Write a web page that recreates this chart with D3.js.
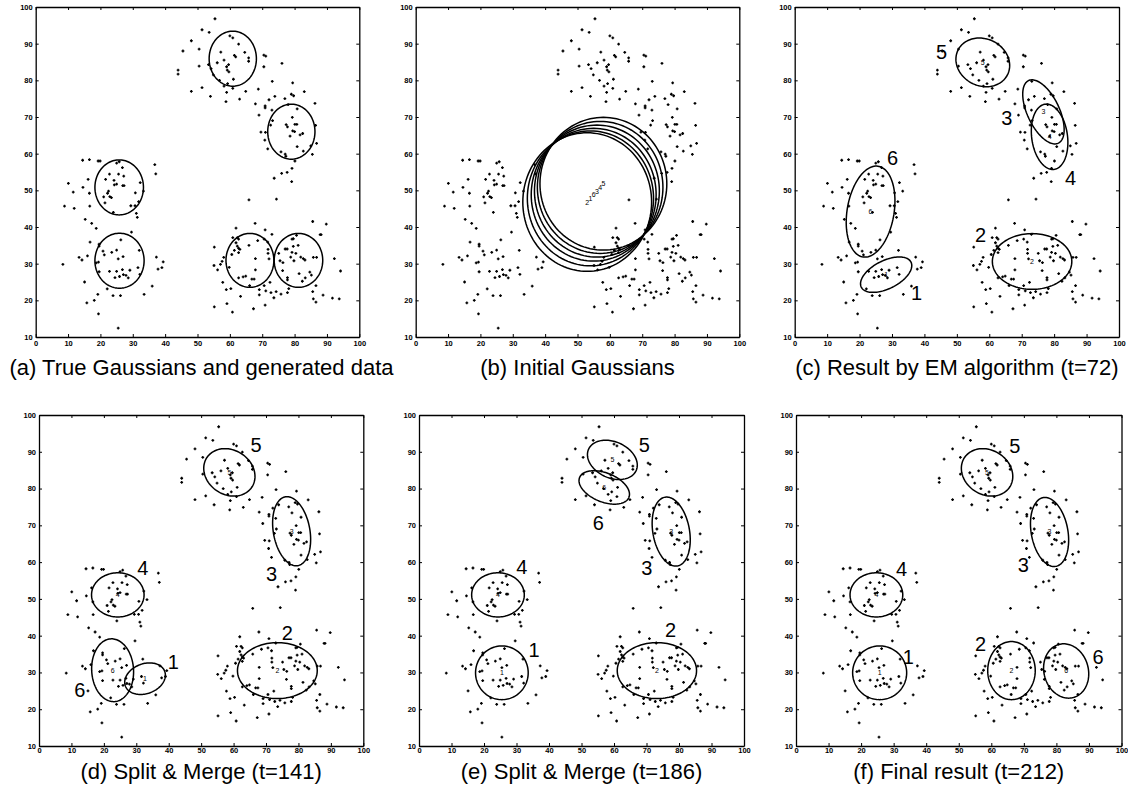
<!DOCTYPE html>
<html>
<head>
<meta charset="utf-8">
<script src="https://cdnjs.cloudflare.com/ajax/libs/d3/7.8.5/d3.min.js"></script>
<style>
body { margin:0; background:#fff; }
svg text { font-family:"Liberation Sans", Arial, sans-serif; fill:#000; }
</style>
</head>
<body>
<div id="chart-area"></div>
<script>
//data (same generated points in every panel)
var pointsNorth = [[55.4,96.8],[51.4,93.8],[53.6,93.1],[48.1,90.8],[45.5,88.0],[50.5,88.5],[44.0,82.8],[44.0,81.7],[50.5,83.9],[53.4,84.3],[54.2,83.2],[48.1,77.0],[51.4,78.0],[54.0,75.6],[58.8,74.2],[60.0,92.1],[60.9,91.6],[62.7,89.9],[57.2,87.7],[58.2,85.5],[56.1,84.8],[59.6,84.3],[61.4,86.8],[61.8,86.4],[64.6,87.6],[65.8,86.1],[65.8,85.2],[59.0,83.7],[59.2,82.8],[59.7,82.3],[54.9,81.5],[56.8,80.0],[61.1,80.3],[59.3,79.1],[58.2,78.4],[59.0,76.7],[60.9,77.8],[64.9,77.0],[63.0,74.9],[70.5,86.9],[71.1,86.6],[70.5,83.7],[76.1,84.6],[73.1,79.7],[79.4,79.3],[68.8,77.6],[83.0,76.9]];
var pointsEast = [[67.9,73.6],[70.9,73.0],[70.9,72.5],[72.1,74.7],[73.9,75.6],[77.0,75.0],[79.0,76.2],[79.7,75.8],[78.0,73.4],[73.0,71.9],[80.8,72.2],[86.3,73.7],[69.0,70.5],[73.2,69.0],[72.6,67.8],[77.4,67.9],[77.8,67.3],[79.3,69.9],[80.1,68.0],[80.7,68.0],[86.5,67.7],[69.6,65.9],[71.0,65.8],[79.4,66.2],[80.0,66.0],[78.6,64.8],[81.7,65.1],[82.5,65.5],[70.8,63.7],[71.7,61.3],[80.8,61.9],[82.7,60.7],[85.0,62.1],[86.8,62.8],[85.5,59.8],[75.8,60.5],[77.1,59.9],[77.3,59.3],[80.1,58.0],[79.2,56.0],[73.7,53.3],[76.0,54.6],[77.7,54.9],[79.1,52.4],[74.4,47.6],[65.9,47.4]];
var pointsWest = [[14.5,58.2],[16.6,58.4],[19.3,58.0],[19.9,58.0],[25.0,57.4],[25.8,57.8],[26.8,56.2],[36.8,57.0],[37.1,54.5],[22.8,54.4],[25.6,54.4],[27.2,53.9],[16.2,53.0],[21.6,53.0],[24.2,52.7],[10.1,51.9],[14.6,50.8],[26.9,51.3],[27.3,51.3],[24.3,51.5],[25.0,51.7],[32.3,52.1],[11.6,49.5],[16.6,49.2],[22.5,49.8],[22.2,49.2],[30.8,49.3],[33.3,49.8],[21.0,48.2],[22.9,48.3],[23.4,48.0],[8.9,45.7],[11.9,45.1],[16.7,45.7],[21.4,46.6],[29.4,45.8],[30.7,45.8],[31.8,46.9],[31.1,43.7],[31.4,42.6],[24.0,44.0],[15.3,42.1],[17.3,41.0],[18.7,39.6]];
var pointsSouthWest = [[29.6,38.6],[26.3,36.5],[16.8,35.9],[19.6,35.3],[19.6,34.8],[32.0,33.6],[20.8,33.4],[23.5,33.1],[25.0,33.7],[21.2,32.4],[16.0,32.1],[13.4,31.7],[14.3,31.0],[27.0,31.9],[25.5,31.3],[37.3,31.8],[8.4,29.8],[18.7,30.2],[19.4,30.4],[39.4,30.5],[39.0,28.9],[31.6,28.9],[19.6,27.8],[22.8,27.9],[25.0,27.9],[26.8,28.4],[29.1,28.2],[37.8,28.5],[27.1,27.0],[27.9,26.8],[28.6,26.1],[24.5,26.2],[25.9,26.5],[32.2,27.1],[15.1,25.0],[36.0,23.9],[22.1,23.1],[19.2,21.6],[23.9,21.3],[26.2,21.3],[33.5,21.6],[18.1,20.0],[15.8,19.3],[19.4,16.3],[25.5,12.4]];
var pointsSouthEast = [[55.2,34.5],[55.1,29.5],[56.2,28.3],[55.2,18.2],[57.1,29.8],[57.6,30.6],[57.8,24.9],[58.1,31.7],[58.9,22.9],[59.1,19.1],[59.8,29.0],[60.3,23.2],[60.8,16.8],[61.9,39.7],[60.9,37.1],[62.3,37.1],[62.7,36.7],[61.9,35.7],[62.3,34.8],[62.7,34.2],[63.1,33.9],[61.4,33.6],[60.6,32.5],[62.7,33.0],[65.9,35.0],[68.6,36.3],[67.8,41.0],[70.9,39.2],[70.6,36.7],[71.7,35.9],[73.0,38.0],[71.8,33.9],[72.1,31.3],[71.8,32.8],[67.9,31.4],[62.7,26.1],[64.1,26.4],[64.9,26.6],[67.9,28.3],[66.8,25.8],[67.5,25.8],[63.3,21.1],[66.1,24.0],[69.1,22.9],[69.1,21.5],[70.6,24.0],[71.1,22.6],[72.4,24.9],[72.7,22.1],[73.6,20.7],[74.3,22.4],[67.3,17.7],[70.9,18.7],
	[75.5,30.8],[76.4,30.3],[75.1,32.8],[77.1,34.0],[77.7,34.0],[76.3,28.1],[77.8,26.2],[77.8,25.6],[78.2,23.2],[77.8,22.1],[75.8,21.7],[78.8,31.8],[79.2,33.1],[79.6,34.7],[79.2,36.7],[79.6,36.8],[80.6,37.7],[81.1,35.0],[80.4,32.8],[79.8,30.8],[81.9,31.8],[82.7,31.4],[83.2,31.0],[81.4,27.3],[82.4,25.2],[83.3,26.1],[84.7,27.7],[85.2,26.9],[85.8,31.7],[86.8,31.7],[85.6,22.4],[86.6,24.0],[85.8,20.4],[86.6,19.5],[85.6,41.5],[89.8,40.8],[87.9,37.9],[88.2,37.9],[88.8,21.4],[91.7,20.6],[93.8,20.4],[92.3,31.4],[94.2,28.0]];

//tick labels
var xTicks = [0,10,20,30,40,50,60,70,80,90,100];
var yTicks = [10,20,30,40,50,60,70,80,90,100];

var captions = ["(a) True Gaussians and generated data", "(b) Initial Gaussians", "(c) Result by EM algorithm (t=72)",
	"(d) Split & Merge (t=141)", "(e) Split & Merge (t=186)", "(f) Final result (t=212)"];

//gaussians: centre, semi axes (data units), angle of first axis (deg)
var ellipsesA = [
	{id:"", cx:60.9, cy:85.9, a:7.3, b:7.5, angle:0},
	{id:"", cx:79.0, cy:66.0, a:7.3, b:7.5, angle:0},
	{id:"", cx:25.8, cy:50.8, a:7.5, b:7.5, angle:0},
	{id:"", cx:25.9, cy:30.8, a:7.6, b:7.5, angle:0},
	{id:"", cx:66.2, cy:30.9, a:7.4, b:7.35, angle:0},
	{id:"", cx:81.2, cy:30.9, a:7.5, b:7.35, angle:0}
];
var ellipsesB = [
	{id:"2", cx:53.0, cy:46.8, a:19.9, b:18.9, angle:0},
	{id:"1", cx:54.0, cy:47.8, a:19.5, b:18.4, angle:0},
	{id:"6", cx:55.0, cy:48.8, a:19.3, b:18.1, angle:0},
	{id:"3", cx:56.0, cy:49.8, a:19.3, b:18.0, angle:0},
	{id:"4", cx:57.0, cy:50.8, a:19.4, b:18.0, angle:0},
	{id:"5", cx:58.0, cy:51.8, a:19.6, b:18.1, angle:0}
];
var ellipsesC = [
	{id:"5", cx:58.0, cy:84.9, a:8.4, b:6.5, angle:-15},
	{id:"3", cx:76.7, cy:71.4, a:9.7, b:4.8, angle:-60},
	{id:"4", cx:78.6, cy:64.6, a:9.0, b:5.5, angle:-80},
	{id:"6", cx:23.4, cy:44.2, a:12.6, b:7.2, angle:78},
	{id:"1", cx:28.2, cy:27.0, a:8.4, b:3.9, angle:22.5},
	{id:"2", cx:73.2, cy:30.6, a:12.25, b:7.6, angle:0}
];
var ellipsesD = [
	{id:"5", cx:58.7, cy:84.4, a:8.1, b:6.2, angle:-20},
	{id:"3", cx:77.9, cy:68.4, a:9.55, b:5.6, angle:-77},
	{id:"4", cx:24.3, cy:51.1, a:8.1, b:6.0, angle:0},
	{id:"6", cx:22.7, cy:30.6, a:8.55, b:6.45, angle:95},
	{id:"1", cx:32.7, cy:28.3, a:6.4, b:4.1, angle:15},
	{id:"2", cx:73.5, cy:30.5, a:12.3, b:7.6, angle:0}
];
var ellipsesE = [
	{id:"5", cx:59.5, cy:87.8, a:7.9, b:5.0, angle:-18},
	{id:"6", cx:57.0, cy:80.3, a:8.06, b:4.0, angle:-18},
	{id:"3", cx:77.6, cy:68.3, a:9.55, b:5.6, angle:-77},
	{id:"4", cx:24.3, cy:51.1, a:8.1, b:6.0, angle:0},
	{id:"1", cx:25.5, cy:29.9, a:8.1, b:7.3, angle:0},
	{id:"2", cx:73.2, cy:30.5, a:12.2, b:7.6, angle:0}
];
var ellipsesF = [
	{id:"5", cx:58.7, cy:84.4, a:8.1, b:6.2, angle:-20},
	{id:"3", cx:77.9, cy:68.2, a:9.55, b:5.6, angle:-77},
	{id:"4", cx:24.7, cy:51.1, a:8.1, b:6.0, angle:0},
	{id:"1", cx:25.7, cy:29.9, a:8.3, b:7.3, angle:0},
	{id:"2", cx:66.2, cy:30.5, a:7.3, b:7.9, angle:0},
	{id:"6", cx:83.0, cy:30.4, a:7.6, b:6.7, angle:-60}
];

//big component numbers [text, x, y]
var labelsC = [["5",45.3,87.8],["3",65.4,69.6],["4",85.1,53.3],["6",30.2,58.7],["1",37.6,22.0],["2",57.3,37.8]];
var labelsD = [["5",66.9,91.8],["3",71.7,56.9],["4",32.0,58.3],["6",12.6,25.2],["1",41.4,32.8],["2",76.6,40.6]];
var labelsE = [["5",69.3,91.8],["6",55.2,70.5],["3",70.1,58.3],["4",31.6,58.7],["1",35.4,36.0],["2",77.4,41.6]];
var labelsF = [["5",67.2,91.6],["3",69.8,59.2],["4",32.4,58.0],["1",34.5,34.2],["2",56.7,37.8],["6",92.8,34.2]];

var allPoints = pointsNorth.concat(pointsEast, pointsWest, pointsSouthWest, pointsSouthEast);

//panel layout
var panels = [
	{left:35.7, top:7, w:323.6, h:330, ell:ellipsesA, lab:[], centreIds:false},
	{left:415.7, top:7, w:323.6, h:330, ell:ellipsesB, lab:[], centreIds:true},
	{left:794.7, top:7, w:324.3, h:330, ell:ellipsesC, lab:labelsC, centreIds:true},
	{left:39, top:415, w:324.3, h:331, ell:ellipsesD, lab:labelsD, centreIds:true},
	{left:419, top:415, w:325, h:331, ell:ellipsesE, lab:labelsE, centreIds:true},
	{left:796, top:415, w:325.5, h:331, ell:ellipsesF, lab:labelsF, centreIds:true}
];
var captionY = [375, 779];

var svg = d3.select("#chart-area")
	.append("svg")
		.attr("width", 1128)
		.attr("height", 797);

var cross = "M-1.4,0H1.4M0,-1.4V1.4";

panels.forEach(function(p, i){
	var g = svg.append("g")
		.attr("transform", "translate(" + p.left + "," + p.top + ")");

	var x = d3.scaleLinear().domain([0,100]).range([0,p.w]);
	var y = d3.scaleLinear().domain([10,100]).range([p.h,0]);

	//axes, ticks point inward on all four sides
	g.append("g").attr("transform", "translate(0," + p.h + ")")
		.call(d3.axisBottom(x).tickValues(xTicks).tickSizeInner(-3).tickSizeOuter(0).tickPadding(i < 3 ? 4 : 2));
	g.append("g")
		.call(d3.axisLeft(y).tickValues(yTicks).tickSizeInner(-3).tickSizeOuter(0).tickPadding(3));
	g.append("g")
		.call(d3.axisTop(x).tickValues(xTicks).tickSizeInner(-3).tickSizeOuter(0).tickFormat(""));
	g.append("g").attr("transform", "translate(" + p.w + ",0)")
		.call(d3.axisRight(y).tickValues(yTicks).tickSizeInner(-3).tickSizeOuter(0).tickFormat(""));
	g.selectAll(".domain").attr("stroke", "#000").attr("stroke-width", 1.3);
	g.selectAll(".tick line").attr("stroke", "#000").attr("stroke-width", 1);
	g.selectAll(".tick text")
		.attr("font-size", "7.5px")
		.attr("font-weight", "bold")
		.attr("font-family", "Liberation Sans, Arial, sans-serif");

	//data points
	g.append("g").selectAll("path")
		.data(allPoints)
		.enter().append("path")
		.attr("d", cross)
		.attr("transform", function(d){ return "translate(" + x(d[0]) + "," + y(d[1]) + ")"; })
		.attr("stroke", "#000")
		.attr("stroke-width", 1.3);

	//gaussians
	var line = d3.line()
		.x(function(d){ return x(d[0]); })
		.y(function(d){ return y(d[1]); })
		.curve(d3.curveLinearClosed);
	function outline(e){
		var th = e.angle * Math.PI / 180, pts = [];
		for (var k = 0; k < 120; k++) {
			var t = k / 120 * 2 * Math.PI;
			pts.push([e.cx + e.a*Math.cos(t)*Math.cos(th) - e.b*Math.sin(t)*Math.sin(th),
				e.cy + e.a*Math.cos(t)*Math.sin(th) + e.b*Math.sin(t)*Math.cos(th)]);
		}
		return pts;
	}
	g.append("g").selectAll("path")
		.data(p.ell)
		.enter().append("path")
		.attr("d", function(d){ return line(outline(d)); })
		.attr("fill", "none")
		.attr("stroke", "#000")
		.attr("stroke-width", 1.5);

	if (p.centreIds) {
		g.append("g").selectAll("text")
			.data(p.ell)
			.enter().append("text")
			.attr("x", function(d){ return x(d.cx); })
			.attr("y", function(d){ return y(d.cy); })
			.attr("dy", "0.35em")
			.attr("text-anchor", "middle")
			.attr("font-size", "7px")
			.text(function(d){ return d.id; });
	}

	g.append("g").selectAll("text")
		.data(p.lab)
		.enter().append("text")
		.attr("x", function(d){ return x(d[1]); })
		.attr("y", function(d){ return y(d[2]); })
		.attr("dy", "0.35em")
		.attr("text-anchor", "middle")
		.attr("font-size", "20px")
		.text(function(d){ return d[0]; });

	//caption
	svg.append("text")
		.attr("x", p.left + p.w / 2 + (i == 0 ? 4 : 0))
		.attr("y", captionY[i < 3 ? 0 : 1])
		.attr("text-anchor", "middle")
		.attr("font-size", "22px")
		.text(captions[i]);
});
</script>
</body>
</html>
